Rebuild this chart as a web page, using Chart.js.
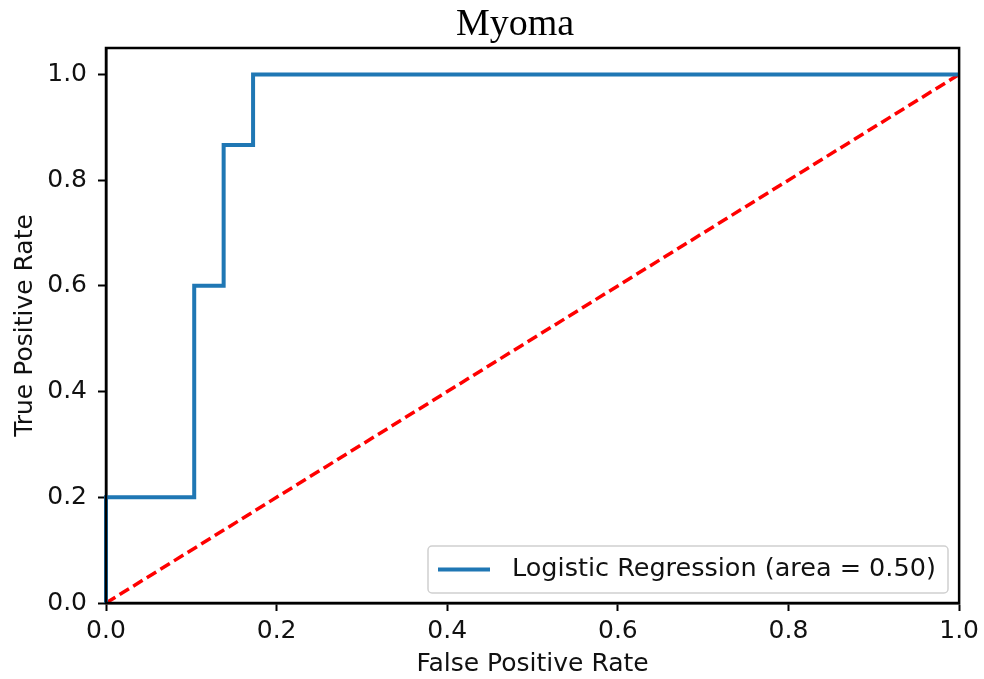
<!DOCTYPE html>
<html>
<head>
<meta charset="utf-8">
<title>Myoma ROC</title>
<script src="https://cdn.jsdelivr.net/npm/chart.js@4/dist/chart.umd.min.js"></script>
<style>
  html, body { margin: 0; padding: 0; background: #fff; }
  canvas { display: block; }
</style>
</head>
<body>
<canvas id="roc" width="984" height="679"></canvas>
<script>
// ROC points (false positive rate / true positive rate)
const fpr = [0, 0, 0.1034, 0.1034, 0.1379, 0.1379, 0.1724, 0.1724, 1.0];
const tpr = [0, 0.2, 0.2, 0.6, 0.6, 0.8667, 0.8667, 1.0, 1.0];
// chance line
const chanceX = [0, 1];
const chanceY = [0, 1];

const xTicks = [0, 0.2, 0.4, 0.6, 0.8, 1.0];
const yTicks = [0, 0.2, 0.4, 0.6, 0.8, 1.0];

const curveLabel = 'Logistic Regression (area = 0.50)';
const titleText = 'Myoma';

const FONT = 'DejaVu Sans';

// title, closed box around the plot, legend in the lower right
const framePlugin = {
  id: 'frame',
  afterDraw(chart) {
    const { ctx, chartArea: a } = chart;
    ctx.save();
    ctx.strokeStyle = '#000';
    ctx.lineWidth = 2.5;
    ctx.strokeRect(a.left, a.top, a.right - a.left, a.bottom - a.top);

    ctx.fillStyle = '#000';
    ctx.font = '38px "Liberation Serif"';
    ctx.textAlign = 'center';
    ctx.textBaseline = 'alphabetic';
    ctx.fillText(titleText, 515, 35);

    // legend box
    const ds = chart.data.datasets[0];
    const bx = 428, by = 546, bw = 520, bh = 47;
    ctx.fillStyle = 'rgba(255,255,255,0.85)';
    ctx.strokeStyle = '#d0d0d0';
    ctx.lineWidth = 1.5;
    ctx.beginPath();
    ctx.roundRect(bx, by, bw, bh, 4);
    ctx.fill();
    ctx.stroke();

    const cy = by + bh / 2;
    ctx.strokeStyle = ds.borderColor;
    ctx.lineWidth = 4;
    ctx.beginPath();
    ctx.moveTo(bx + 10, cy);
    ctx.lineTo(bx + 62, cy);
    ctx.stroke();

    ctx.fillStyle = '#111';
    ctx.font = '25.5px "' + FONT + '"';
    ctx.textBaseline = 'middle';
    ctx.textAlign = 'left';
    ctx.fillText(ds.label, bx + 84, cy);
    ctx.restore();
  }
};

function tickList(values) {
  return (scale) => { scale.ticks = values.map(v => ({ value: v })); };
}

const axisCommon = {
  type: 'linear',
  border: { display: true, color: '#000', width: 2.5 },
  grid: { display: true, drawOnChartArea: false, drawTicks: true, tickLength: 8, tickWidth: 2, tickColor: '#000' },
  ticks: {
    color: '#111',
    font: { family: FONT, size: 25 },
    callback: (v) => Number(v).toFixed(1)
  },
  title: { display: true, color: '#111', font: { family: FONT, size: 25 } }
};

new Chart(document.getElementById('roc').getContext('2d'), {
  type: 'scatter',
  data: {
    datasets: [
      {
        label: curveLabel,
        data: fpr.map((x, i) => ({ x, y: tpr[i] })),
        showLine: true,
        borderColor: '#1f77b4',
        borderWidth: 4,
        pointRadius: 0,
        tension: 0,
        clip: false
      },
      {
        label: 'chance',
        data: chanceX.map((x, i) => ({ x, y: chanceY[i] })),
        showLine: true,
        borderColor: '#ff0000',
        borderWidth: 3.5,
        borderDash: [11, 5],
        pointRadius: 0,
        clip: false
      }
    ]
  },
  plugins: [framePlugin],
  options: {
    responsive: false,
    devicePixelRatio: 1,
    animation: false,
    layout: { padding: { left: 0, right: 24, top: 48, bottom: 0 } },
    plugins: {
      legend: { display: false },
      tooltip: { enabled: false },
      title: { display: false }
    },
    scales: {
      x: {
        ...axisCommon,
        min: 0,
        max: 1,
        ticks: { ...axisCommon.ticks, padding: 5 },
        afterBuildTicks: tickList(xTicks),
        afterFit: (scale) => { scale.height = 76; },
        title: { ...axisCommon.title, text: 'False Positive Rate', padding: { top: 0, bottom: 0 } }
      },
      y: {
        ...axisCommon,
        min: 0,
        max: 1.05,
        ticks: { ...axisCommon.ticks, padding: 11 },
        afterBuildTicks: tickList(yTicks),
        afterFit: (scale) => { scale.width = 106; },
        title: { ...axisCommon.title, text: 'True Positive Rate', padding: { top: 10, bottom: 0 } }
      }
    }
  }
});
</script>
</body>
</html>
